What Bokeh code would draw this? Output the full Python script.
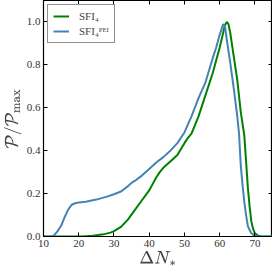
from bokeh.plotting import figure
from bokeh.models import (LinearAxis, Range1d, Legend, LegendItem, FixedTicker,
                          CustomLabelingPolicy, CustomJSTickFormatter)
from bokeh.embed import file_html
from bokeh.resources import INLINE

# SFI4 (green)
x_sfi = [10, 21, 24, 27, 29, 30, 32, 34, 36, 38, 40, 42, 43, 44, 46, 48, 50, 51, 52, 54, 56, 58, 59, 60, 61, 61.5, 62, 62.5, 63, 64, 65, 66, 67, 67.5, 68, 68.5, 69, 69.5, 70, 71, 72, 75]
y_sfi = [0, 0, 0.003, 0.01, 0.018, 0.025, 0.045, 0.08, 0.125, 0.17, 0.215, 0.275, 0.3, 0.32, 0.35, 0.38, 0.435, 0.46, 0.48, 0.56, 0.66, 0.76, 0.82, 0.88, 0.95, 0.985, 1.0, 0.99, 0.95, 0.84, 0.73, 0.58, 0.47, 0.35, 0.23, 0.14, 0.07, 0.035, 0.015, 0.003, 0, 0]

# SFI4 PEI (blue)
x_pei = [10, 12, 13, 14, 15, 16, 17, 18, 19, 20, 22, 25, 28, 30, 32, 34, 35, 36, 38, 40, 42, 44, 46, 48, 50, 52, 54, 56, 58, 59, 60, 61, 61.5, 62, 63, 64, 65, 65.5, 66, 66.5, 67, 67.5, 68, 68.5, 69, 70, 71, 75]
y_pei = [0, 0, 0.005, 0.025, 0.05, 0.09, 0.125, 0.148, 0.155, 0.158, 0.162, 0.172, 0.186, 0.197, 0.21, 0.235, 0.25, 0.26, 0.285, 0.315, 0.345, 0.37, 0.40, 0.435, 0.485, 0.56, 0.645, 0.72, 0.83, 0.88, 0.94, 0.99, 0.98, 0.92, 0.81, 0.69, 0.56, 0.48, 0.33, 0.24, 0.16, 0.10, 0.05, 0.03, 0.015, 0.003, 0, 0]

x_ticks = [10, 20, 30, 40, 50, 60, 70]
y_ticks = [0.0, 0.2, 0.4, 0.6, 0.8, 1.0]
labels = ["SFI\u2084", "SFI\u2084\u1d3e\u1d31\u1d35"]

FONT = "Liberation Serif"

p = figure(width=269, height=270, output_backend="svg", toolbar_location=None,
           x_range=Range1d(10, 75), y_range=Range1d(0, 1.1),
           frame_width=229, frame_height=236, min_border_top=0, min_border_right=0,
           min_border_left=0, min_border_bottom=0)

g = p.line(x_sfi, y_sfi, line_color="#008000", line_width=2)
b = p.line(x_pei, y_pei, line_color="#4682B4", line_width=2)

p.xgrid.visible = False
p.ygrid.visible = False
p.outline_line_color = "black"
p.outline_line_width = 1.2

for ax in (p.xaxis[0], p.yaxis[0]):
    ax.major_tick_in = 4
    ax.major_tick_out = 0
    ax.minor_tick_line_color = None
    ax.axis_line_color = "black"
    ax.major_label_text_font = FONT
    ax.major_label_text_font_size = "11px"
    ax.major_label_text_color = "#333333"
    ax.axis_label_text_font_size = "14px"
    ax.axis_label_text_font_style = "normal"
    ax.major_label_standoff = 3

p.xaxis[0].ticker = FixedTicker(ticks=x_ticks)
p.yaxis[0].ticker = FixedTicker(ticks=y_ticks)
p.xaxis[0].axis_label = r"$$\Delta N_*$$"
p.yaxis[0].axis_label = r"$$\mathcal{P}/\mathcal{P}_{\rm max}$$"
p.xaxis[0].axis_label_standoff = 1
p.yaxis[0].axis_label_standoff = 2
p.yaxis[0].formatter = CustomJSTickFormatter(code="return tick.toFixed(1);")

hide = "for (const i of Array.from(indices)) { indices.unset(i) } return indices"
top = LinearAxis(ticker=FixedTicker(ticks=x_ticks), major_tick_in=4, major_tick_out=0,
                 minor_tick_line_color=None, major_label_standoff=0,
                 major_label_text_font_size="0px",
                 major_label_policy=CustomLabelingPolicy(code=hide))
right = LinearAxis(ticker=FixedTicker(ticks=y_ticks), major_tick_in=4, major_tick_out=0,
                   minor_tick_line_color=None, major_label_standoff=0,
                   major_label_text_font_size="0px",
                   major_label_policy=CustomLabelingPolicy(code=hide))
p.add_layout(top, "above")
p.add_layout(right, "right")

legend = Legend(items=[LegendItem(label=labels[0], renderers=[g]),
                       LegendItem(label=labels[1], renderers=[b])],
                location="top_left", label_text_font=FONT, label_text_font_size="11px",
                glyph_width=16, glyph_height=12, label_height=12, spacing=3,
                padding=5, margin=4, border_line_color="#222222", border_line_width=1,
                background_fill_alpha=1, label_standoff=10)
p.add_layout(legend)

open("out.html", "w").write(file_html(p, INLINE))
